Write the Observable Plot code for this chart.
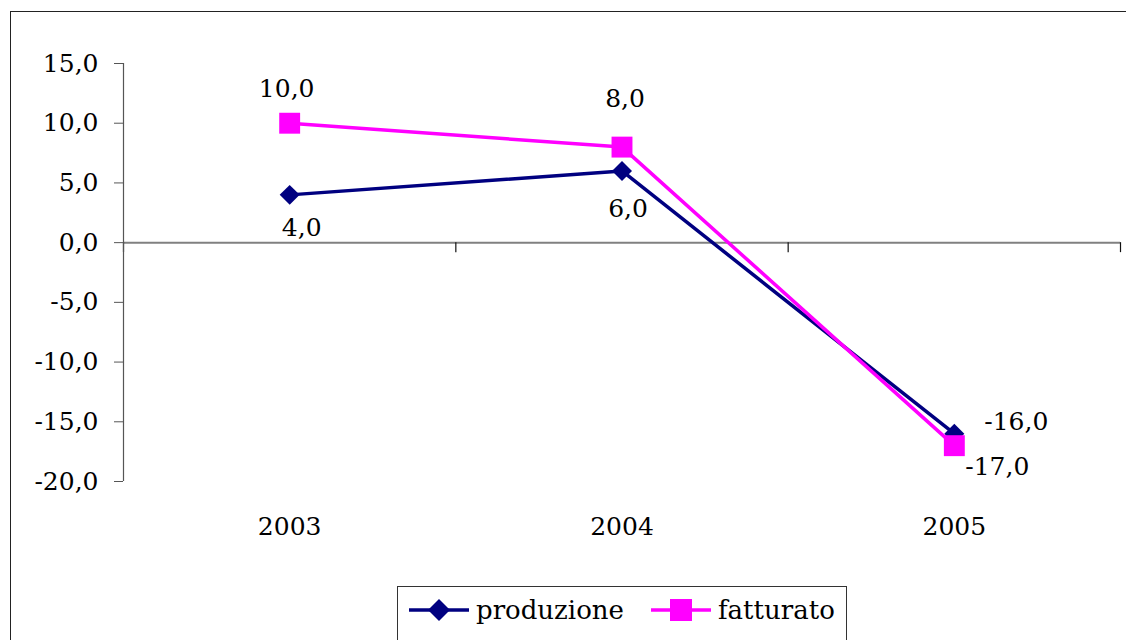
<!DOCTYPE html>
<html>
<head>
<meta charset="utf-8">
<script src="https://cdn.jsdelivr.net/npm/d3@7"></script>
<script src="https://cdn.jsdelivr.net/npm/@observablehq/plot@0.6"></script>
<style>
  html, body { margin: 0; padding: 0; background: #fff; }
  #wrap { position: relative; width: 1126px; height: 640px; overflow: hidden; font-family: "DejaVu Serif", serif; }
  #frame { position: absolute; left: 10px; top: 11px; width: 1200px; height: 700px; border: 1.5px solid #222; box-sizing: border-box; }
  #chart { position: absolute; left: 0; top: 0; }
  #legend { position: absolute; left: 397px; top: 586px; width: 450px; height: 80px; border: 1.5px solid #333; box-sizing: border-box; background: #fff; }
  .item { position: absolute; top: 8px; display: flex; align-items: center; font-size: 26px; color: #000; }
  .item svg { display: block; margin-right: 5px; }
</style>
</head>
<body>
<div id="wrap">
  <div id="frame"></div>
  <div id="chart"></div>
  <div id="legend">
    <div class="item" style="left:9px">
      <svg width="64" height="30"><line x1="2" y1="15" x2="62" y2="15" stroke="#000080" stroke-width="3.5"/><path d="M32,4 L43,15 L32,26 L21,15 Z" fill="#000080"/></svg><span>produzione</span>
    </div>
    <div class="item" style="left:251px">
      <svg width="64" height="30"><line x1="2" y1="15" x2="62" y2="15" stroke="#FF00FF" stroke-width="3.5"/><rect x="21" y="4" width="22" height="22" fill="#FF00FF"/></svg><span>fatturato</span>
    </div>
  </div>
</div>
<script>
const years = [2003, 2004, 2005];
const produzione = [4.0, 6.0, -16.0];
const fatturato = [10.0, 8.0, -17.0];
const yTicks = [-20, -15, -10, -5, 0, 5, 10, 15];
const seriesNames = ["produzione", "fatturato"];

const fmt = d => d.toFixed(1).replace(".", ",");
const prod = years.map((x, i) => ({x, y: produzione[i], s: seriesNames[0]}));
const fatt = years.map((x, i) => ({x, y: fatturato[i], s: seriesNames[1]}));
const xMin = years[0] - 0.5, xMax = years[years.length - 1] + 0.5;
const bounds = [xMin, ...years.map(y => y + 0.5)];
const FONT = "DejaVu Serif";
const FS = 25;

const label = (data, year, dx, dy) => Plot.text(data.filter(d => d.x === year), {
  x: "x", y: "y", text: d => fmt(d.y), dx, dy, fontSize: FS, fontFamily: FONT, fill: "#000"
});

const chart = Plot.plot({
  width: 1126,
  height: 640,
  marginLeft: 123,
  marginRight: 6,
  marginTop: 63,
  marginBottom: 159,
  style: {background: "transparent", fontFamily: FONT},
  x: {type: "linear", domain: [xMin, xMax]},
  y: {domain: [yTicks[0], yTicks[yTicks.length - 1]]},
  marks: [
    Plot.ruleY([0], {x1: xMin, x2: xMax, stroke: "#808080", strokeWidth: 2}),
    Plot.ruleX(bounds, {x: d => d, y1: 0, y2: 0, insetBottom: -10, stroke: "#111", strokeWidth: 1.2}),
    Plot.ruleX([xMin], {y1: yTicks[0], y2: yTicks[yTicks.length - 1], stroke: "#555", strokeWidth: 1.2}),
    Plot.axisY({ticks: yTicks, tickFormat: fmt, tickSize: 9, tickPadding: 16, fontSize: FS, fontFamily: FONT, stroke: "#555", color: "#000", label: null}),
    Plot.axisX({ticks: years, tickFormat: d => String(d), tickSize: 0, tickPadding: 36, fontSize: FS, fontFamily: FONT, color: "#000", label: null}),
    Plot.line(prod, {x: "x", y: "y", stroke: "#000080", strokeWidth: 3.5}),
    Plot.dot(prod, {x: "x", y: "y", symbol: "diamond2", r: 9, fill: "#000080", stroke: "none"}),
    Plot.line(fatt, {x: "x", y: "y", stroke: "#FF00FF", strokeWidth: 3.5}),
    Plot.dot(fatt, {x: "x", y: "y", symbol: "square", r: 11.8, fill: "#FF00FF", stroke: "none"}),
    label(fatt, 2003, -3, -34),
    label(fatt, 2004, 3, -48),
    label(fatt, 2005, 43, 21),
    label(prod, 2003, 12, 33),
    label(prod, 2004, 6, 38),
    label(prod, 2005, 62, -12)
  ]
});
document.getElementById("chart").appendChild(chart);
</script>
</body>
</html>
